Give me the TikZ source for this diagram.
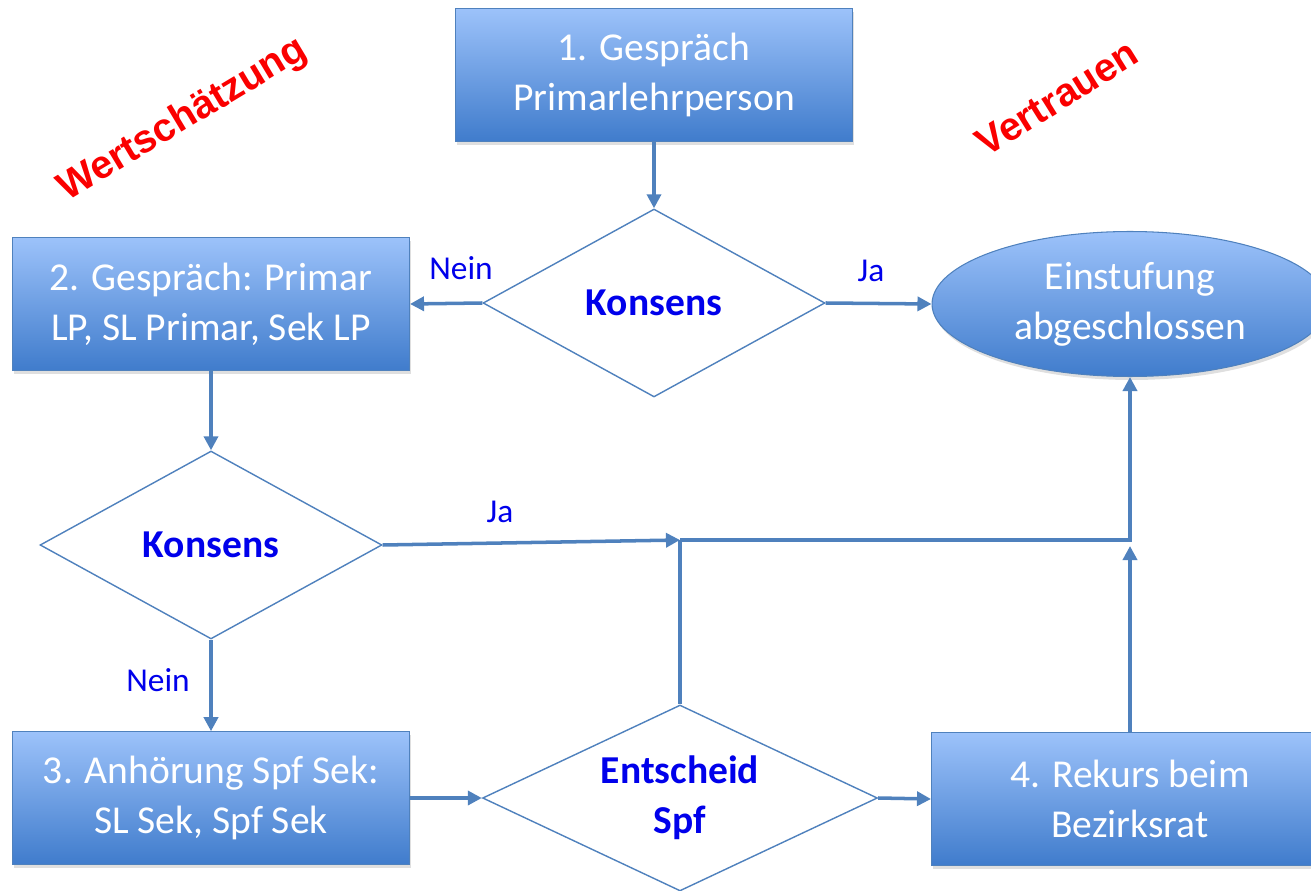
\documentclass[tikz,border=0pt]{standalone}
\usepackage{fontspec}
\setmainfont{Carlito}
\newfontfamily\arialfont{Liberation Sans}
\usetikzlibrary{shapes.geometric,arrows.meta,shadows}
\definecolor{flowline}{RGB}{79,129,189}
\definecolor{boxtop}{RGB}{156,194,250}
\definecolor{boxbot}{RGB}{64,124,204}
\definecolor{labelblue}{RGB}{0,0,235}
\definecolor{markred}{RGB}{250,0,0}
\begin{document}
\begin{tikzpicture}[x=0.02cm, y=-0.02cm,
    stepbox/.style={rectangle, draw=flowline, line width=0.6pt,
      top color=boxtop, bottom color=boxbot, text=white, align=center,
      minimum width=7.94cm, minimum height=2.65cm,
      font=\fontsize{22.5}{28.5}\selectfont,
      drop shadow={shadow xshift=1pt, shadow yshift=-2pt, opacity=0.25}},
    decision/.style={diamond, draw=flowline, line width=0.8pt, fill=white,
      aspect=2, inner sep=0pt, align=center, text=labelblue,
      font=\fontsize{22.5}{28.5}\selectfont\bfseries},
    flow/.style={draw=flowline, line width=2pt, -{Triangle[length=8pt,width=8pt]}},
    flowline/.style={draw=flowline, line width=2pt},
    answer/.style={text=labelblue, font=\fontsize{19}{23}\selectfont},
    keyword/.style={text=markred, font=\fontsize{22.5}{27}\selectfont\arialfont\bfseries}]
        \useasboundingbox (0,0) rectangle (1311,891);
        \clip (0,0) rectangle (1311,891);
        % nodes of the flow chart
        \node[stepbox] (talk1) at (654,75) {1. Gespräch\\Primarlehrperson};
        \node[decision, minimum width=6.84cm, minimum height=3.76cm] (kons1) at (654,303) {Konsens};
        \node[stepbox] (talk2) at (211,304) {2. Gespräch: Primar\\LP, SL Primar, Sek LP};
        \node[ellipse, draw=flowline, line width=0.6pt, top color=boxtop, bottom color=boxbot,
              text=white, align=center, inner sep=0pt, minimum width=7.92cm, minimum height=2.9cm,
              font=\fontsize{22.5}{28.5}\selectfont,
              drop shadow={shadow xshift=1pt, shadow yshift=-2pt, opacity=0.25}]
              (done) at (1130,304) {Einstufung\\abgeschlossen};
        \node[decision, minimum width=6.84cm, minimum height=3.76cm] (kons2) at (211,545) {Konsens};
        \node[stepbox] (hearing) at (211,798) {3. Anhörung Spf Sek:\\SL Sek, Spf Sek};
        \node[decision, minimum width=7.9cm, minimum height=3.72cm] (decide) at (680,798) {Entscheid\\Spf};
        \node[stepbox] (appeal) at (1130,799) {4. Rekurs beim\\Bezirksrat};
        % corners of the connectors
        \coordinate (join)   at (680,540);
        \coordinate (corner) at (1130,540);
        \coordinate (stop)   at (1130,546);
        % drawing the connectors
        \draw[flow] (talk1) -- (kons1);
        \draw[flow] (kons1.west) -- (talk2.east);
        \draw[flow] (kons1.east) -- (done.west);
        \draw[flow] (talk2) -- (kons2);
        \draw[flow] (kons2.east) -- (join);
        \draw[flow] (kons2) -- (hearing);
        \draw[flow] (hearing.east) -- (decide.west);
        \draw[flow] (decide.east) -- (appeal.west);
        \draw[flowline] (decide.north) -- (join);
        \draw[flow] (join) -- (corner) -- (done.south);
        \draw[flow] (appeal.north) -- (stop);
        % answers on the connectors
        \node[answer] (no1)  at (461,268) {Nein};
        \node[answer] (yes1) at (871,271) {Ja};
        \node[answer] (yes2) at (500,512) {Ja};
        \node[answer] (no2)  at (158,680) {Nein};
        % red keywords
        \node[keyword, rotate=31] (esteem) at (183,120) {Wertschätzung};
        \node[keyword, rotate=32] (trust)  at (1057,98) {Vertrauen};
      \end{tikzpicture}
\end{document}
